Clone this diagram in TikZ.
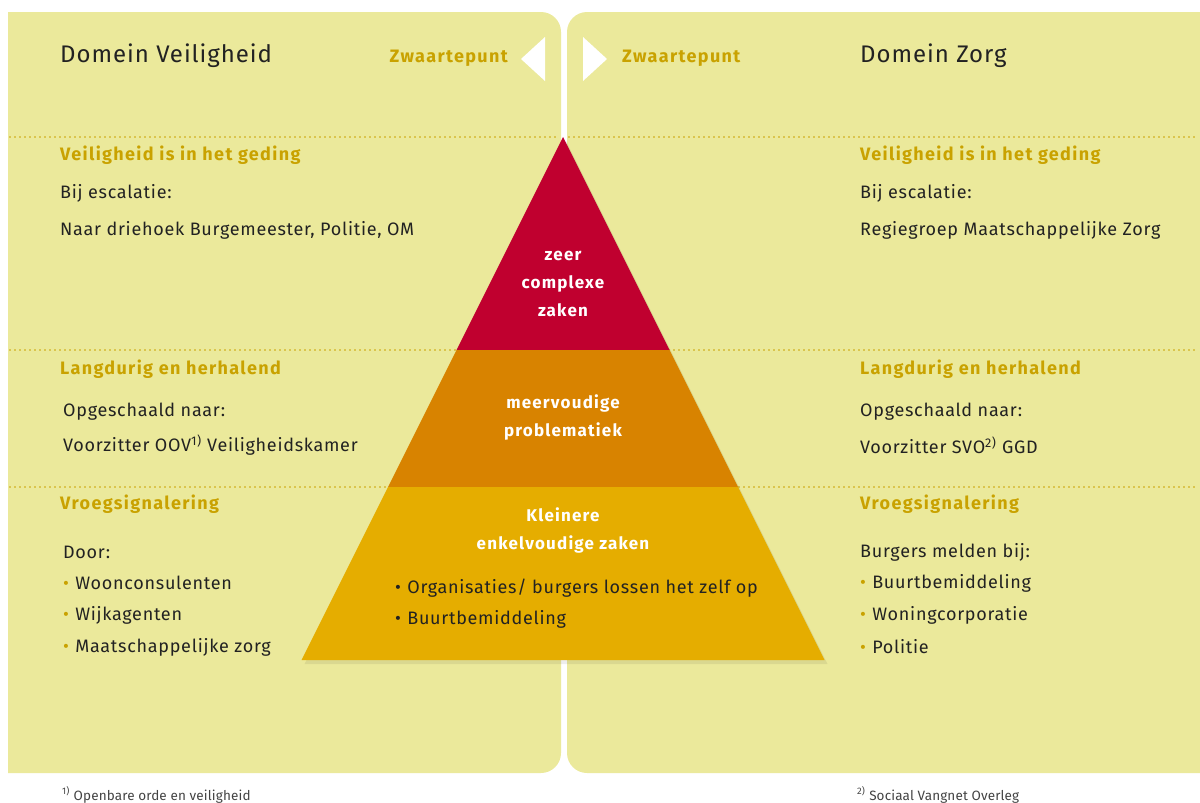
\documentclass[tikz,border=0pt]{standalone}
\usepackage{fontspec}
\setmainfont{Fira Sans}[LetterSpace=4]
\usetikzlibrary{positioning}
\definecolor{panelfill}{HTML}{EBE99B}
\definecolor{gold}{HTML}{C9A200}
\definecolor{topred}{HTML}{C0002F}
\definecolor{midorange}{HTML}{D88300}
\definecolor{lowyellow}{HTML}{E5AD00}
\definecolor{inktext}{HTML}{222222}
\tikzset
{
    panel/.style      = {fill=panelfill, rounded corners=20pt},
    divider/.style    = {draw=gold, line width=1.6pt, dash pattern=on 0pt off 5pt, line cap=round},
    pointer/.style    = {fill=white},
    title/.style      = {anchor=west, inner sep=0pt, text=inktext, font=\fontsize{24}{29}\selectfont},
    heading/.style    = {anchor=west, inner sep=0pt, text=gold, font=\bfseries\fontsize{18}{22}\selectfont\addfontfeatures{LetterSpace=7.5}},
    bodytext/.style   = {anchor=west, inner sep=0pt, text=inktext, font=\fontsize{18}{22}\selectfont},
    layerlabel/.style = {align=center, inner sep=0pt, text=white, font=\bfseries\fontsize{17}{28}\selectfont\addfontfeatures{LetterSpace=7}},
    footnote/.style   = {anchor=west, inner sep=0pt, text=inktext!85, font=\fontsize{13.5}{16}\selectfont\addfontfeatures{LetterSpace=1}}
}
\newcommand{\gbullet}{{\color{gold}\textbullet}\hspace{0.35em}}
\newcommand{\kbullet}{\textbullet\hspace{0.35em}}

\begin{document}
\begin{tikzpicture}[x=1pt, y=-1pt]
	\useasboundingbox (0,0) rectangle (1200,803);
	% two panels
	\begin{scope}
		\clip (8,0) rectangle (1200,803);
		\fill[panel] (-30,12) rectangle (561,773);
		\fill[panel] (567,12) rectangle (1240,773);
	\end{scope}
	% dotted dividers
	\foreach \y in {137,350,487}{
		\draw[divider] (10,\y) -- (559,\y);
		\draw[divider] (569,\y) -- (1198,\y);
	}
	% pointers
	\fill[pointer] (545,37) -- (545,81) -- (521,59) -- cycle;
	\fill[pointer] (583,37) -- (583,81) -- (607,59) -- cycle;
	% pyramid
	\coordinate (apex) at (563,137);
	\coordinate (redL) at (456.5,350);
	\coordinate (redR) at (669.5,350);
	\coordinate (orgL) at (388,487);
	\coordinate (orgR) at (738,487);
	\coordinate (baseL) at (301.5,660);
	\coordinate (baseR) at (824.5,660);
	\fill[black, opacity=0.07] ([shift={(3,4)}]apex) -- ([shift={(3,4)}]baseR) -- ([shift={(3,4)}]baseL) -- cycle;
	\fill[topred] (apex) -- (redR) -- (redL) -- cycle;
	\fill[midorange] (redL) -- (redR) -- (orgR) -- (orgL) -- cycle;
	\fill[lowyellow] (orgL) -- (orgR) -- (baseR) -- (baseL) -- cycle;
	\node[layerlabel] (top) at (563,284) {zeer\\complexe\\zaken};
	\node[layerlabel] (mid) at (563,417.5) {meervoudige\\problematiek};
	\node[layerlabel] (low) at (563,530.5) {Kleinere\\enkelvoudige zaken};
	\node[bodytext] (lowA) at (395,588) {\kbullet Organisaties/ burgers lossen het zelf op};
	\node[bodytext] (lowB) at (395,619) {\kbullet Buurtbemiddeling};
	% left panel: Domein Veiligheid
	\node[title] (vTitle) at (60,56) {Domein Veiligheid};
	\node[heading, anchor=east] (vFocus) at (508,58) {Zwaartepunt};
	\node[heading] (vHead1) at (60,155) {Veiligheid is in het geding};
	\node[bodytext] (vEsc) at (60,193) {Bij escalatie:};
	\node[bodytext] (vEscTo) at (60,230) {Naar driehoek Burgemeester, Politie, OM};
	\node[heading] (vHead2) at (60,369) {Langdurig en herhalend};
	\node[bodytext] (vUp) at (63,412) {Opgeschaald naar:};
	\node[bodytext] (vUpTo) at (63,445) {Voorzitter OOV\textsuperscript{1)} Veiligheidskamer};
	\node[heading] (vHead3) at (60,504) {Vroegsignalering};
	\node[bodytext] (vBy) at (63,552) {Door:};
	\node[bodytext] (vByA) at (63,583) {\gbullet Woonconsulenten};
	\node[bodytext] (vByB) at (63,615) {\gbullet Wijkagenten};
	\node[bodytext] (vByC) at (63,647) {\gbullet Maatschappelijke zorg};
	% right panel: Domein Zorg
	\node[title] (zTitle) at (860,56) {Domein Zorg};
	\node[heading] (zFocus) at (622,58) {Zwaartepunt};
	\node[heading] (zHead1) at (860,155) {Veiligheid is in het geding};
	\node[bodytext] (zEsc) at (860,193) {Bij escalatie:};
	\node[bodytext] (zEscTo) at (860,230) {Regiegroep Maatschappelijke Zorg};
	\node[heading] (zHead2) at (860,369) {Langdurig en herhalend};
	\node[bodytext] (zUp) at (860,412) {Opgeschaald naar:};
	\node[bodytext] (zUpTo) at (860,445) {Voorzitter SVO\textsuperscript{2)} GGD};
	\node[heading] (zHead3) at (860,504) {Vroegsignalering};
	\node[bodytext] (zBy) at (860,552) {Burgers melden bij:};
	\node[bodytext] (zByA) at (860,583) {\gbullet Buurtbemiddeling};
	\node[bodytext] (zByB) at (860,615) {\gbullet Woningcorporatie};
	\node[bodytext] (zByC) at (860,647) {\gbullet Politie};
	% footnotes
	\node[footnote] (noteA) at (62,795) {\textsuperscript{1)} Openbare orde en veiligheid};
	\node[footnote] (noteB) at (857,795) {\textsuperscript{2)} Sociaal Vangnet Overleg};
\end{tikzpicture}
\end{document}
